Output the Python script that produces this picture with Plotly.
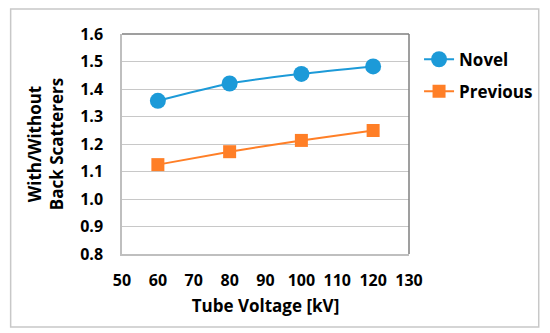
import plotly.graph_objects as go

voltage = [60, 80, 100, 120]
novel = [1.357, 1.420, 1.455, 1.482]
previous = [1.125, 1.172, 1.213, 1.249]
x_ticks = [50, 60, 70, 80, 90, 100, 110, 120, 130]
y_ticks = [0.8, 0.9, 1.0, 1.1, 1.2, 1.3, 1.4, 1.5, 1.6]

FONT = "Open Sans"
blue = "#1C9AD8"
orange = "#FF7F27"

fig = go.Figure()
fig.add_trace(go.Scatter(
    x=voltage, y=novel, name="Novel", mode="lines+markers",
    line=dict(color=blue, width=2, shape="spline", smoothing=0.7),
    marker=dict(symbol="circle", size=16, color=blue),
    legendgroup="a",
))
fig.add_trace(go.Scatter(
    x=voltage, y=previous, name="Previous", mode="lines+markers",
    line=dict(color=orange, width=2, shape="spline", smoothing=0.3),
    marker=dict(symbol="square", size=13, color=orange),
    legendgroup="b",
))

fig.update_layout(
    width=542, height=325,
    margin=dict(l=114, r=136, t=26, b=79),
    paper_bgcolor="white", plot_bgcolor="white",
    font=dict(family=FONT, color="black"),
    showlegend=True,
    legend=dict(
        x=1.035, xanchor="left", y=0.965, yanchor="top",
        font=dict(family=FONT, size=17, color="black", weight="bold"),
        traceorder="grouped", tracegroupgap=7,
        itemwidth=30, bgcolor="rgba(0,0,0,0)",
    ),
    xaxis=dict(
        range=[50, 130], tickvals=x_ticks, ticktext=[str(v) for v in x_ticks],
        showgrid=False, zeroline=False,
        showline=True, linecolor="#BFBFBF", linewidth=1.5,
        ticks="", ticklabelstandoff=11,
        tickfont=dict(family=FONT, size=16, color="black", weight="bold"),
        title=dict(text="Tube Voltage [kV]", standoff=10,
                   font=dict(family=FONT, size=17, color="black", weight="bold")),
    ),
    yaxis=dict(
        range=[0.8, 1.6], tickvals=y_ticks, ticktext=[f"{v:.1f}" for v in y_ticks],
        showgrid=True, gridcolor="#C8C8C8", gridwidth=1.2, zeroline=False,
        showline=True, linecolor="#BFBFBF", linewidth=1.5,
        ticks="", ticklabelstandoff=14,
        tickfont=dict(family=FONT, size=16, color="black", weight="bold"),
        title=dict(text="With/Without<br>Back Scatterers", standoff=12,
                   font=dict(family=FONT, size=17, color="black", weight="bold")),
    ),
    shapes=[
        dict(type="line", xref="x domain", yref="y domain", x0=0, x1=1, y0=1, y1=1,
             line=dict(color="#7F7F7F", width=1.5)),
        dict(type="line", xref="x domain", yref="y domain", x0=1, x1=1, y0=0, y1=1,
             line=dict(color="#7F7F7F", width=1.5)),
        dict(type="rect", xref="paper", yref="paper", x0=-0.388, x1=1.452, y0=-0.332, y1=1.114,
             line=dict(color="#C8C8C8", width=1.5), fillcolor="rgba(0,0,0,0)", layer="below"),
    ],
)

fig.write_html("out.html")
